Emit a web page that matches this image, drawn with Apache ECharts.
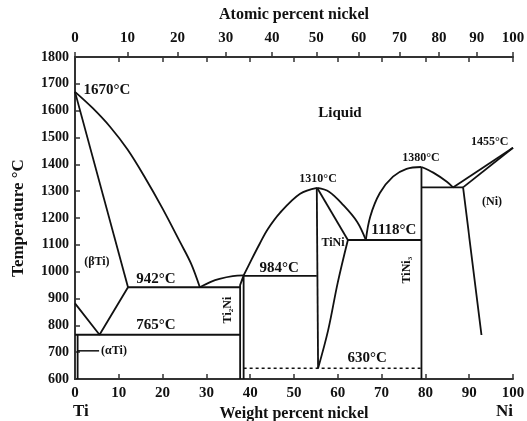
<!DOCTYPE html>
<html>
<head>
<meta charset="utf-8">
<title>Ti-Ni phase diagram</title>
<script src="https://cdn.jsdelivr.net/npm/echarts@6/dist/echarts.min.js"></script>
<style>
  html, body { margin: 0; padding: 0; background: #fff; }
  #chart { width: 527px; height: 421px; }
</style>
</head>
<body>
<div id="chart"></div>
<script>
// axis ticks
const wtTicks = [0, 10, 20, 30, 40, 50, 60, 70, 80, 90, 100]
const tempTicks = [600, 700, 800, 900, 1000, 1100, 1200, 1300, 1400, 1500, 1600, 1700, 1800]
// atomic percent labels on top, placed at their weight-percent positions
const atomicLabels = ['0', '10', '20', '30', '40', '50', '60', '70', '80', '90', '100']
const atomicPos = [0, 12.0, 23.4, 34.4, 45.0, 55.1, 64.8, 74.1, 83.1, 91.7, 100]

// phase boundaries: [wt% Ni, °C]
const liquidusTi = [[0, 1670], [4, 1610], [8, 1540], [12, 1455], [16, 1350], [20, 1235], [24, 1110], [26.5, 1030], [28.5, 942]]
const solidusTi = [[0, 1670], [12.1, 942]]
const betaTransus = [[0, 882], [5.6, 765], [12.1, 942]]
const eutectic942 = [[12.1, 942], [37.7, 942]]
const eutectoid765 = [[0, 765], [37.7, 765]]
const alphaSolvus = [[0.6, 765], [0.6, 600]]
const alphaLeader = [[0.6, 705], [5.5, 705]]
const ti2Ni = [[37.7, 600], [37.7, 950], [38.5, 986], [38.5, 600]]
const liquidusTi2Ni = [[28.5, 942], [31, 962], [33, 973], [36, 983], [38.5, 986]]
const peritectic984 = [[38.5, 984], [55.2, 984]]
const liquidusTiNiL = [[38.5, 986], [40.3, 1045], [42.2, 1105], [44, 1158], [46.8, 1219], [51.4, 1290], [55.3, 1312]]
const liquidusTiNiR = [[55.3, 1312], [58, 1298], [61.2, 1249], [64.4, 1186], [66.4, 1118]]
const tiNiLeft = [[55.2, 1312], [55.5, 640]]
const tiNiSolidus = [[55.3, 1312], [62.3, 1118]]
const tiNiSolvus = [[62.3, 1118], [60, 960], [57.8, 782], [55.5, 640]]
const eutectic1118 = [[62.3, 1118], [79.1, 1118]]
const tiNi3 = [[79.1, 1390], [79.1, 600]]
const liquidusTiNi3L = [[66.4, 1118], [67.4, 1205], [69.6, 1293], [72.6, 1354], [75.7, 1383], [79.1, 1390]]
const liquidusTiNi3R = [[79.1, 1390], [81.8, 1369], [84.9, 1335], [86.3, 1314]]
const eutectic1310 = [[79.1, 1314], [88.6, 1314]]
const liquidusNi = [[86.3, 1314], [100, 1462]]
const solidusNi = [[88.6, 1314], [100, 1462]]
const solvusNi = [[88.6, 1314], [92.8, 764]]
const dashed630 = [[38.5, 640], [79.1, 640]]

// annotations: [text, wt% Ni, °C]
const bigLabels = [
  ['1670°C', 7.3, 1677], ['Liquid', 60.5, 1591], ['1118°C', 72.8, 1155],
  ['984°C', 46.6, 1014], ['942°C', 18.5, 973], ['765°C', 18.5, 801], ['630°C', 66.7, 678]
]
const smallLabels = [
  ['1455°C', 94.7, 1483], ['1380°C', 79, 1424], ['1310°C', 55.5, 1345],
  ['(Ni)', 95.2, 1260], ['TiNi', 58.9, 1107], ['(βTi)', 5.0, 1036], ['(αTi)', 8.9, 705]
]
const vertLabels = [['TiNi₃', 75.8, 1006], ['Ti₂Ni', 34.9, 857]]

const FONT = "'Liberation Serif', 'DejaVu Serif', serif"
const INK = '#111'

const line = (data, extra = {}) => ({
  type: 'line',
  data,
  symbol: 'none',
  silent: true,
  animation: false,
  clip: false,
  lineStyle: { color: INK, width: 1.8, ...(extra.lineStyle || {}) },
  smooth: extra.smooth || false
})

const curved = { smooth: 0.35 }

const labelSeries = (items, fontSize, rotate) => ({
  type: 'scatter',
  symbolSize: 0,
  silent: true,
  animation: false,
  clip: false,
  itemStyle: { opacity: 1, color: 'transparent' },
  data: items.map(([t, x, y]) => ({ name: t, value: [x, y] })),
  label: {
    show: true,
    position: 'inside',
    formatter: (p) => p.name,
    color: INK,
    opacity: 1,
    fontFamily: FONT,
    fontWeight: 'bold',
    fontSize,
    rotate
  }
})

const axisFont = { fontFamily: FONT, fontWeight: 'bold', color: INK }
const axisLine = { show: true, lineStyle: { color: '#333', width: 2 } }

const option = {
  backgroundColor: '#fff',
  animation: false,
  grid: { left: 75, right: 14, top: 57, bottom: 42, containLabel: false, outerBoundsMode: 'none' },
  xAxis: [
    {
      type: 'value', position: 'bottom', min: 0, max: 100, interval: 10,
      name: 'Weight percent nickel', nameLocation: 'middle', nameGap: 26,
      nameTextStyle: { ...axisFont, fontSize: 16 },
      axisLine,
      axisTick: { show: true, inside: true, length: 5, lineStyle: { color: '#333', width: 1.5 } },
      axisLabel: { ...axisFont, fontSize: 15, margin: 7, formatter: (v) => String(v) },
      splitLine: { show: false }
    },
    {
      type: 'value', position: 'top', min: 0, max: 100,
      name: 'Atomic percent nickel', nameLocation: 'middle', nameGap: 34,
      nameTextStyle: { ...axisFont, fontSize: 16 },
      axisLine,
      axisTick: { show: true, inside: false, length: 5, customValues: atomicPos, lineStyle: { color: '#333', width: 1.5 } },
      axisLabel: {
        ...axisFont, fontSize: 15, margin: 11, customValues: atomicPos,
        formatter: (v) => atomicLabels[atomicPos.indexOf(v)]
      },
      splitLine: { show: false }
    },
    {
      type: 'value', position: 'top', min: 0, max: 100, interval: 10,
      axisLine: { show: false },
      axisTick: { show: true, inside: true, length: 5, lineStyle: { color: '#333', width: 1.5 } },
      axisLabel: { show: false },
      splitLine: { show: false }
    }
  ],
  yAxis: [
    {
      type: 'value', position: 'left', min: 600, max: 1800, interval: 100,
      name: 'Temperature °C', nameLocation: 'middle', nameGap: 48, nameRotate: 90,
      nameTextStyle: { ...axisFont, fontSize: 17 },
      axisLine,
      axisTick: { show: true, inside: true, length: 5, lineStyle: { color: '#333', width: 1.5 } },
      axisLabel: { ...axisFont, fontSize: 14, margin: 6, formatter: (v) => String(v) },
      splitLine: { show: false }
    },
    {
      type: 'value', position: 'right', min: 600, max: 1800,
      axisLine,
      axisTick: { show: false },
      axisLabel: { show: false },
      splitLine: { show: false }
    }
  ],
  graphic: [
    { type: 'text', left: 73, top: 403, style: { text: 'Ti', font: `bold 17px ${FONT}`, fill: INK } },
    { type: 'text', left: 496, top: 403, style: { text: 'Ni', font: `bold 17px ${FONT}`, fill: INK } }
  ],
  series: [
    line(liquidusTi, curved),
    line(solidusTi),
    line(betaTransus),
    line(eutectic942),
    line(eutectoid765),
    line(alphaSolvus),
    line(alphaLeader, { lineStyle: { width: 1.5 } }),
    line(ti2Ni),
    line(liquidusTi2Ni, curved),
    line(peritectic984),
    line(liquidusTiNiL, curved),
    line(liquidusTiNiR, curved),
    line(tiNiLeft),
    line(tiNiSolidus),
    line(tiNiSolvus, curved),
    line(eutectic1118),
    line(tiNi3),
    line(liquidusTiNi3L, curved),
    line(liquidusTiNi3R, curved),
    line(eutectic1310),
    line(liquidusNi),
    line(solidusNi),
    line(solvusNi),
    line(dashed630, { lineStyle: { type: [3, 3], width: 1.5 } }),
    labelSeries(bigLabels, 15, 0),
    labelSeries(smallLabels, 12, 0),
    labelSeries(vertLabels, 12, 90)
  ]
}

const chart = echarts.init(document.getElementById('chart'))
chart.setOption(option)
window.addEventListener('resize', () => chart.resize())
</script>
</body>
</html>
